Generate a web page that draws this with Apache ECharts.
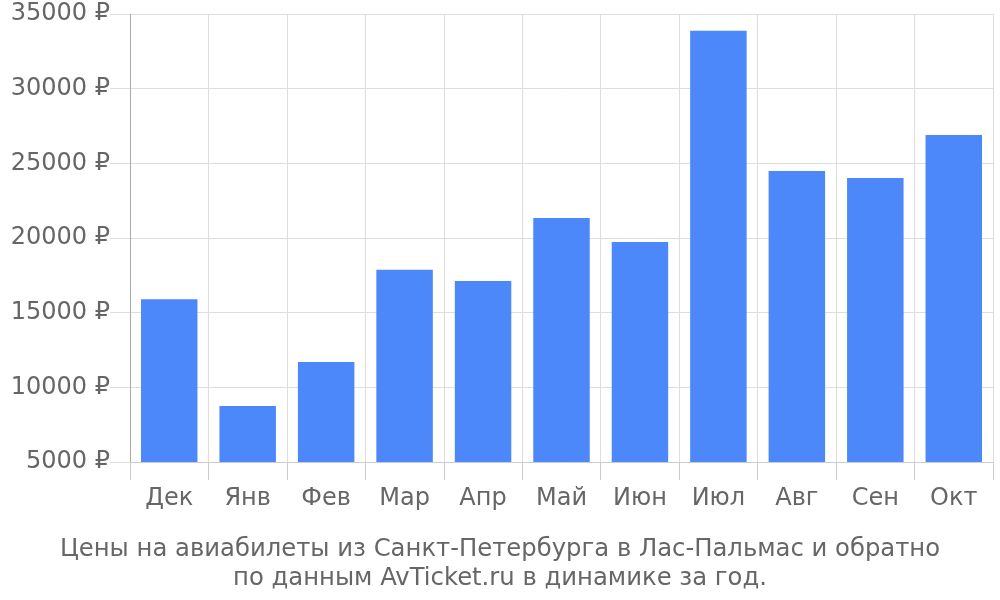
<!DOCTYPE html>
<html><head><meta charset="utf-8">
<script src="https://cdn.jsdelivr.net/npm/echarts@6/dist/echarts.min.js"></script>
<style>html,body{margin:0;padding:0;background:#fff}#c{width:1000px;height:600px}</style>
</head><body><div id="c"></div>
<script>
const categories = ['Дек','Янв','Фев','Мар','Апр','Май','Июн','Июл','Авг','Сен','Окт'];
const prices = [15900, 8750, 11700, 17870, 17120, 21340, 19730, 33880, 24490, 24020, 26900];
const yMin = 5000, yMax = 35000, yStep = 5000;
const titleText = 'Цены на авиабилеты из Санкт-Петербурга в Лас-Пальмас и обратно\nпо данным AvTicket.ru в динамике за год.';

const chart = echarts.init(document.getElementById('c'));
chart.setOption({
  animation: false,
  textStyle: {fontFamily: 'DejaVu Sans'},
  title: {
    text: titleText, left: 'center', top: 530,
    textStyle: {fontFamily: 'DejaVu Sans', fontSize: 24.3, fontWeight: 'normal', color: '#666', lineHeight: 29}
  },
  grid: {left: 130, right: 7, top: 14, bottom: 138, containLabel: false},
  xAxis: {
    type: 'category', data: categories,
    axisLine: {show: true, lineStyle: {color: '#ccc'}},
    axisTick: {show: true, length: 18, lineStyle: {color: '#ccc'}},
    axisLabel: {show: true, fontSize: 24, color: '#666', margin: 25, fontFamily: 'DejaVu Sans'},
    splitLine: {show: true, lineStyle: {color: '#ddd'}}
  },
  yAxis: {
    type: 'value', min: yMin, max: yMax, interval: yStep,
    axisLine: {show: true, lineStyle: {color: '#aaa'}},
    axisTick: {show: true, length: 20, lineStyle: {color: '#ddd'}},
    axisLabel: {fontSize: 24, color: '#666', margin: 20, padding: [4, 0, 0, 0], fontFamily: 'DejaVu Sans', formatter: v => v + ' ₽'},
    splitLine: {lineStyle: {color: '#ddd'}}
  },
  series: [{
    type: 'bar', data: prices, barWidth: '72%',
    itemStyle: {color: '#4d88fa'}
  }]
});
</script></body></html>
